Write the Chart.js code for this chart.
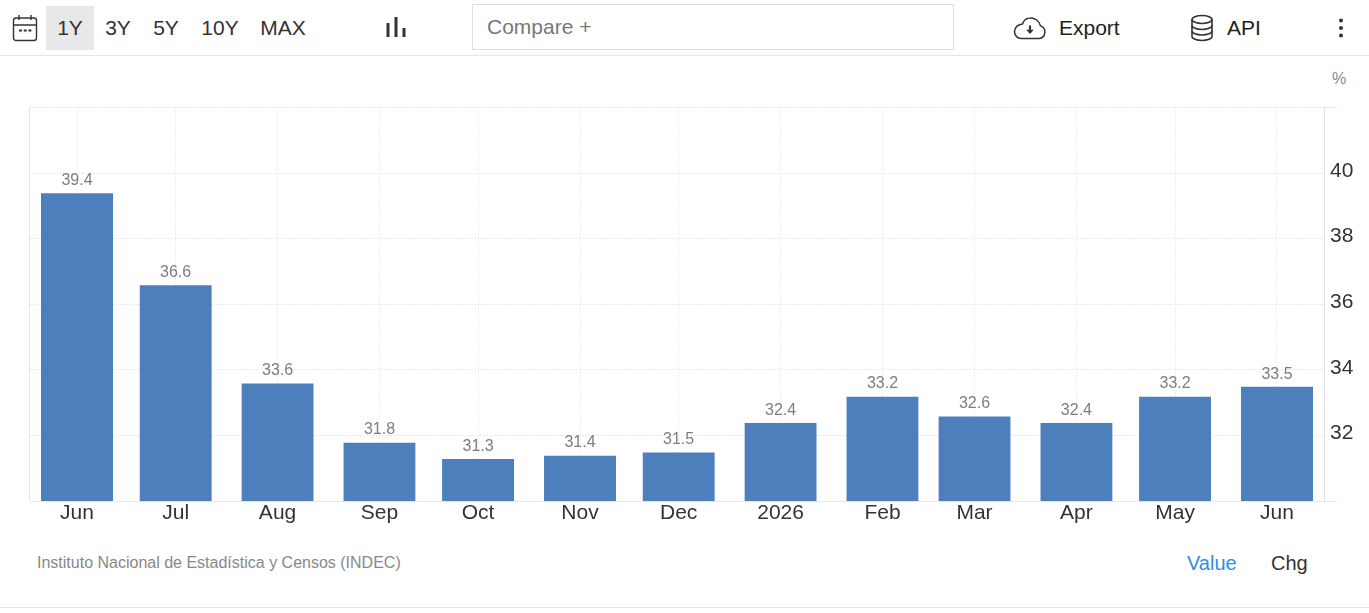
<!DOCTYPE html>
<html>
<head>
<meta charset="utf-8">
<style>
  html, body { margin: 0; padding: 0; background: #fff; overflow: hidden; }
  body { width: 1369px; height: 613px; position: relative; font-family: "Liberation Sans", Arial, sans-serif; }
  .abs { position: absolute; white-space: nowrap; }
  .range { top: 6px; height: 44px; line-height: 44px; font-size: 21px; color: #333; text-align: center; }
  .range.on { background: #e8e8e8; }
  #toolbarLine { left: 0; top: 55px; width: 1369px; height: 1px; background: #e6e6e6; }
  #bottomLine { left: 0; top: 607px; width: 1369px; height: 1px; background: #e2e2e2; }
  #compare { left: 472px; top: 4px; width: 480px; height: 44px; border: 1px solid #ddd; line-height: 44px; font-size: 21px; color: #777; text-indent: 14px; }
  #chartBox { left: 0; top: 60px; width: 1369px; height: 480px; }
</style>
</head>
<body>
<svg class="abs" style="left:12px;top:14px" width="26" height="28" viewBox="0 0 26 28" fill="none" stroke="#333" stroke-width="1.4">
  <rect x="1.5" y="4" width="23" height="22.5" rx="2.5"/>
  <path d="M1.5 11h23M7 1v5M19 1v5"/>
  <path d="M7 16.5h3M11.7 16.5h3M16.4 16.5h3" stroke-width="2"/>
</svg>
<div class="abs range on" style="left:46px;width:48px">1Y</div>
<div class="abs range" style="left:94px;width:48px">3Y</div>
<div class="abs range" style="left:142px;width:48px">5Y</div>
<div class="abs range" style="left:190px;width:60px">10Y</div>
<div class="abs range" style="left:250px;width:66px">MAX</div>
<svg class="abs" style="left:384px;top:16px" width="24" height="24" viewBox="0 0 24 24" fill="#333">
  <rect x="2.5" y="7" width="3" height="14"/><rect x="10.5" y="1" width="3" height="20"/><rect x="18.5" y="12" width="3" height="9"/>
</svg>
<div class="abs" id="compare">Compare +</div>
<svg class="abs" style="left:1013px;top:16px" width="34" height="24" viewBox="0 0 34 24" fill="none" stroke="#333" stroke-width="1.5">
  <path d="M8 22.5h18a6.5 6.5 0 0 0 1.5-12.6C26 4.500 21.500 1.500 17 2c-3.500.3-6.500 2.600-7.500 6C5 8.300 1.500 11.500 1.500 15.500c0 4 3 7 6.500 7z"/>
  <path d="M17 9.500v6" stroke-width="2.200"/>
  <path d="M13.200 13.800h7.600L17 18z" fill="#333" stroke="none"/>
</svg>
<div class="abs" style="left:1059px;top:16px;font-size:21px;line-height:24px;color:#222">Export</div>
<svg class="abs" style="left:1190px;top:14px" width="24" height="28" viewBox="0 0 24 28" fill="none" stroke="#333" stroke-width="1.6">
  <ellipse cx="12" cy="5.500" rx="10" ry="4"/>
  <path d="M2 5.500v17c0 2.200 4.500 4 10 4s10-1.800 10-4v-17"/>
  <path d="M2 11.500c0 2.200 4.500 4 10 4s10-1.800 10-4M2 17c0 2.200 4.500 4 10 4s10-1.800 10-4"/>
</svg>
<div class="abs" style="left:1227px;top:16px;font-size:21px;line-height:24px;color:#222">API</div>
<svg class="abs" style="left:1336px;top:17px" width="10" height="22" viewBox="0 0 10 22" fill="#333">
  <circle cx="5" cy="3.500" r="2"/><circle cx="5" cy="11" r="2"/><circle cx="5" cy="18.500" r="2"/>
</svg>
<div class="abs" id="toolbarLine"></div>
<div class="abs" style="left:1332px;top:70px;font-size:16px;line-height:18px;color:#8a8a8a">%</div>
<div class="abs" id="chartBox"><canvas id="chart"></canvas></div>
<div class="abs" style="left:37px;top:554px;font-size:16px;line-height:18px;color:#888">Instituto Nacional de Estadística y Censos (INDEC)</div>
<div class="abs" style="left:1187px;top:551px;font-size:20px;line-height:24px;color:#2e8fe0">Value</div>
<div class="abs" style="left:1271px;top:551px;font-size:20px;line-height:24px;color:#333">Chg</div>
<div class="abs" id="bottomLine"></div>

<script src="https://cdn.jsdelivr.net/npm/chart.js@4"></script>
<script>
const monthLabels = ['Jun', 'Jul', 'Aug', 'Sep', 'Oct', 'Nov', 'Dec', '2026', 'Feb', 'Mar', 'Apr', 'May', 'Jun'];
// days since the first bar: the axis is a time axis, so months are not evenly spaced
const dayOffsets = [0, 30, 61, 92, 122, 153, 183, 214, 245, 273, 304, 334, 365];
const rates = [39.4, 36.6, 33.6, 31.8, 31.3, 31.4, 31.5, 32.4, 33.2, 32.6, 32.4, 33.2, 33.5];
const yTicksShown = [32, 34, 36, 38, 40];

// left edge of the plot, the y axis only draws the right one
const chartFrame = {
    id: 'chartFrame',
    beforeDraw(chart) {
        const { ctx, chartArea: { left, top, bottom } } = chart;
        ctx.save();
        ctx.strokeStyle = '#e6e6e6';
        ctx.lineWidth = 1;
        ctx.beginPath();
        ctx.moveTo(left - 0.5, top);
        ctx.lineTo(left - 0.5, bottom);
        ctx.stroke();
        ctx.restore();
    }
};

// value labels above the bars
const barLabels = {
    id: 'barLabels',
    afterDatasetsDraw(chart) {
        const { ctx } = chart;
        ctx.save();
        ctx.font = '16px "Liberation Sans", Arial, sans-serif';
        ctx.fillStyle = '#7d7d7d';
        ctx.textAlign = 'center';
        ctx.textBaseline = 'bottom';
        chart.getDatasetMeta(0).data.forEach((bar, i) => {
            ctx.fillText(rates[i].toFixed(1), bar.x, bar.y - 4);
        });
        ctx.restore();
    }
};

new Chart(document.getElementById('chart'), {
    type: 'bar',
    data: {
        datasets: [{
            data: dayOffsets.map((d, i) => ({ x: d, y: rates[i] })),
            backgroundColor: '#4d7fbc',
            borderColor: 'rgba(0,0,0,0)',
            borderWidth: { top: 1, left: 0, right: 0, bottom: 0 },
            barThickness: 72
        }]
    },
    options: {
        responsive: true,
        maintainAspectRatio: false,
        animation: false,
        layout: { padding: { left: 30, top: 47.4, right: 0, bottom: 0 } },
        plugins: { legend: { display: false }, tooltip: { enabled: false } },
        scales: {
            x: {
                type: 'linear',
                offset: false,
                min: -14.3,
                max: 379.3,
                afterBuildTicks: (axis) => { axis.ticks = dayOffsets.map(d => ({ value: d })); },
                afterFit: (axis) => { axis.height = 39; },
                ticks: {
                    autoSkip: false,
                    maxRotation: 0,
                    padding: 0,
                    color: '#333',
                    font: { family: '"Liberation Sans", Arial, sans-serif', size: 21 },
                    callback: (v) => monthLabels[dayOffsets.indexOf(v)]
                },
                grid: { color: '#dedede', lineWidth: 1, drawTicks: false, offset: false },
                border: { color: '#e6e6e6', dash: [1, 2] }
            },
            y: {
                position: 'right',
                min: 30,
                max: 42,
                afterFit: (axis) => { axis.width = 45; },
                ticks: {
                    stepSize: 2,
                    padding: -7,
                    labelOffset: -2,
                    color: '#333',
                    font: { family: '"Liberation Sans", Arial, sans-serif', size: 21 },
                    callback: (v) => yTicksShown.includes(v) ? String(v) : ''
                },
                grid: {
                    color: '#ebebeb',
                    tickLength: 13,
                    tickColor: (c) => (c.tick && yTicksShown.includes(c.tick.value)) ? 'rgba(0,0,0,0)' : '#e6e6e6'
                },
                border: { color: '#e0e0e0', dash: [2, 1] }
            }
        }
    },
    plugins: [chartFrame, barLabels]
});
</script>
</body>
</html>
